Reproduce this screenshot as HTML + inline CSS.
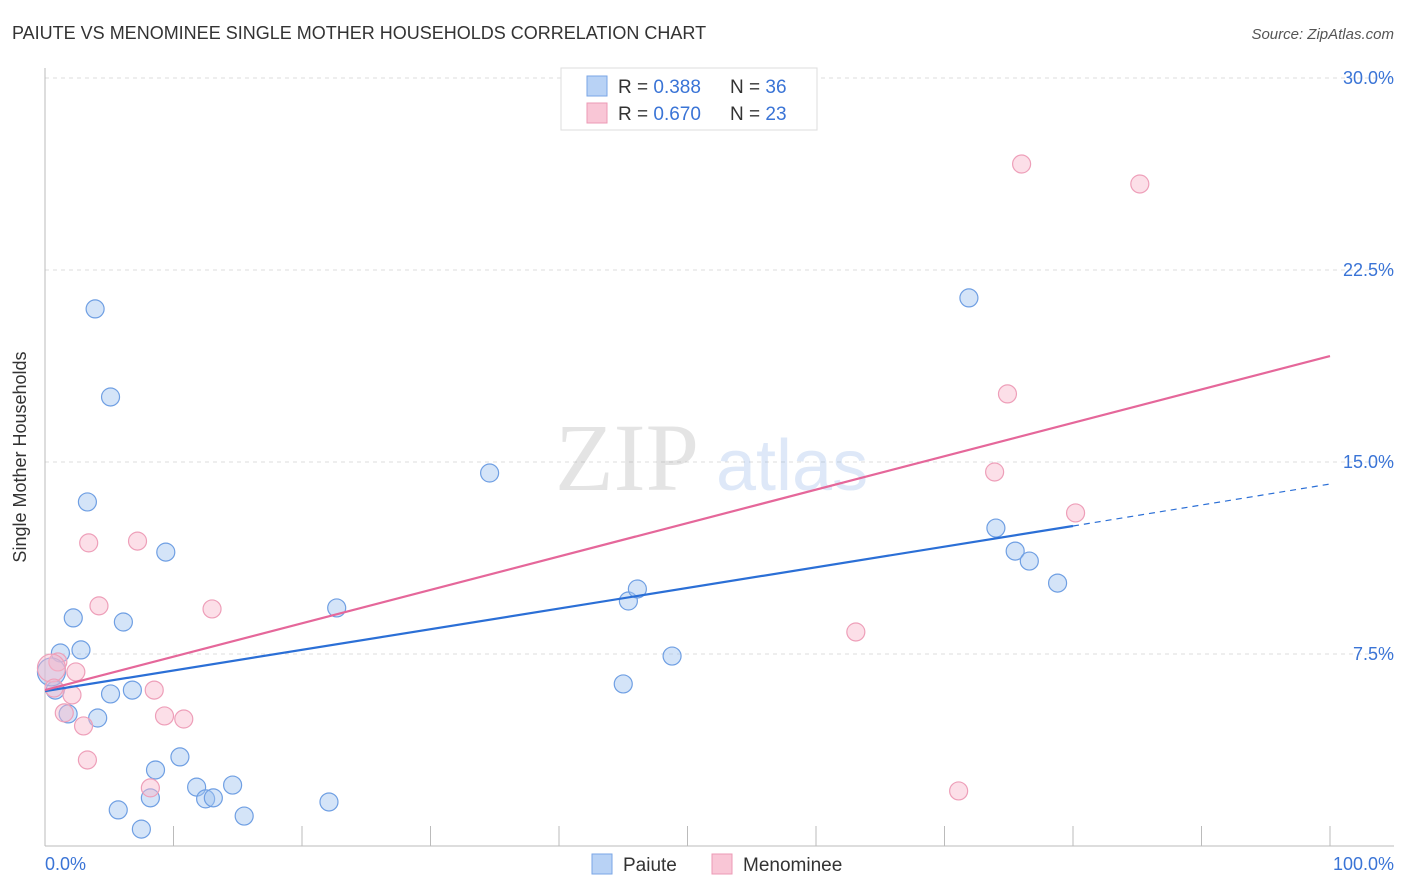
<!DOCTYPE html>
<html><head><meta charset="utf-8"><style>
body{margin:0;background:#fff;font-family:"Liberation Sans",sans-serif}
svg{display:block}
</style></head><body>
<svg width="1406" height="892" viewBox="0 0 1406 892">
<text x="12" y="39" font-size="18" fill="#333">PAIUTE VS MENOMINEE SINGLE MOTHER HOUSEHOLDS CORRELATION CHART</text>
<text x="1394" y="39" font-size="15" fill="#555" text-anchor="end" font-style="italic">Source: ZipAtlas.com</text>
<g id="grid"></g>
<g opacity="0.22">
<text x="555" y="490" font-size="96" font-family="Liberation Serif,serif" fill="#888">ZIP</text>
<text x="716" y="490" font-size="72" fill="#6b9be0">atlas</text>
</g>
<line x1="45" y1="68" x2="45" y2="846" stroke="#bbb"/>
<line x1="45" y1="846" x2="1394" y2="846" stroke="#bbb"/>
<g id="ticks"></g>
<text x="26" y="457" font-size="18" fill="#333" text-anchor="middle" transform="rotate(-90 26 457)">Single Mother Households</text>
<text x="45" y="870" font-size="18" fill="#3a74d6">0.0%</text>
<text x="1394" y="870" font-size="18" fill="#3a74d6" text-anchor="end">100.0%</text>
<g id="points"></g>
<g id="lines"></g>
<g>
<rect x="561" y="68" width="256" height="62" fill="#fff" stroke="#ddd"/>
<rect x="587" y="76" width="20" height="20" fill="#b8d2f5" stroke="#7aa6e6"/>
<rect x="587" y="103" width="20" height="20" fill="#f9c6d6" stroke="#ec9ab5"/>
<text x="618" y="93" font-size="19" fill="#333">R = <tspan fill="#3a74d6">0.388</tspan><tspan x="730">N = </tspan><tspan fill="#3a74d6">36</tspan></text>
<text x="618" y="120" font-size="19" fill="#333">R = <tspan fill="#3a74d6">0.670</tspan><tspan x="730">N = </tspan><tspan fill="#3a74d6">23</tspan></text>
</g>
<g>
<rect x="592" y="854" width="20" height="20" fill="#b8d2f5" stroke="#7aa6e6"/>
<text x="623" y="871" font-size="19" fill="#333">Paiute</text>
<rect x="712" y="854" width="20" height="20" fill="#f9c6d6" stroke="#ec9ab5"/>
<text x="743" y="871" font-size="19" fill="#333">Menominee</text>
</g>
</svg>
<script>
const yTicks=[7.5,15,22.5,30];
const yTickLabels=["7.5%","15.0%","22.5%","30.0%"];
const xTicks=[0,10,20,30,40,50,60,70,80,90,100];
const paiuteX=[3.9,5.1,3.3,9.4,2.2,6.1,2.8,1.2,0.8,1.8,4.1,5.1,6.8,10.5,8.6,11.8,8.2,12.5,13.1,14.6,15.5,5.7,7.5,22.1,22.7,34.6,45.4,46.1,45.0,48.8,71.9,74.0,75.5,76.6,78.8,0.5];
const paiuteY=[20.98,17.54,13.44,11.48,8.91,8.75,7.66,7.54,6.09,5.16,5.0,5.94,6.09,3.48,2.97,2.30,1.88,1.84,1.88,2.38,1.17,1.41,0.66,1.72,9.30,14.57,9.57,10.04,6.33,7.42,21.41,12.42,11.52,11.13,10.27,6.8];
const paiuteSize=[9,9,9,9,9,9,9,9,9,9,9,9,9,9,9,9,9,9,9,9,9,9,9,9,9,9,9,9,9,9,9,9,9,9,9,14];
const menX=[76.0,85.2,74.9,73.9,80.2,63.1,71.1,7.2,3.4,4.2,13.0,2.4,1.0,2.1,8.5,9.3,10.8,1.5,3.0,3.3,8.2,0.5,0.7];
const menY=[26.64,25.86,17.66,14.61,13.01,8.36,2.15,11.91,11.84,9.38,9.26,6.80,7.19,5.90,6.09,5.08,4.96,5.20,4.69,3.36,2.27,6.95,6.17];
const menSize=[9,9,9,9,9,9,9,9,9,9,9,9,9,9,9,9,9,9,9,9,9,14,9];
const paiuteTrend=[6.05,12.5,14.14]; // y at x=0, 80, 100
const menTrend=[6.09,19.14]; // y at x=0,100
const NS="http://www.w3.org/2000/svg";
const sx=v=>45+v*12.85, sy=v=>846-v*25.6;
function mk(t,a,p){const e=document.createElementNS(NS,t);for(const k in a)e.setAttribute(k,a[k]);p.appendChild(e);return e;}
const grid=document.getElementById('grid');
yTicks.forEach((t,i)=>{
 const l=mk('line',{x1:45,x2:1394,y1:sy(t),y2:sy(t),stroke:'#ddd','stroke-dasharray':'4,4'},grid);
 
 
 const tx=mk('text',{x:1394,y:sy(t)+6,'font-size':18,fill:'#3a74d6','text-anchor':'end'},grid);
 tx.textContent=yTickLabels[i];
 
 
});
const ticks=document.getElementById('ticks');
xTicks.forEach(t=>{
 const l=mk('line',{x1:sx(t),x2:sx(t),y1:826,y2:846,stroke:'#bbb'},ticks);
 
 
});
const pts=document.getElementById('points');
paiuteX.forEach((x,i)=>{
 const c=mk('circle',{cx:sx(x),cy:sy(paiuteY[i]),r:paiuteSize[i],fill:'rgba(160,195,240,0.45)',stroke:'#6f9fe3','stroke-width':1.2},pts);
 
 
});
menX.forEach((x,i)=>{
 const c=mk('circle',{cx:sx(x),cy:sy(menY[i]),r:menSize[i],fill:'rgba(248,185,205,0.45)',stroke:'#ee9fb9','stroke-width':1.2},pts);
 
 
});
const ln=document.getElementById('lines');
const b1=mk('line',{x1:sx(0),y1:sy(paiuteTrend[0]),x2:sx(80),y2:sy(paiuteTrend[1]),stroke:'#2b6fd6','stroke-width':2.2},ln);


const b2=mk('line',{x1:sx(80),y1:sy(paiuteTrend[1]),x2:sx(100),y2:sy(paiuteTrend[2]),stroke:'#2b6fd6','stroke-width':1.2,'stroke-dasharray':'6,5'},ln);


const p1=mk('line',{x1:sx(0),y1:sy(menTrend[0]),x2:sx(100),y2:sy(menTrend[1]),stroke:'#e5679a','stroke-width':2.2},ln);


</script>
</body></html>
